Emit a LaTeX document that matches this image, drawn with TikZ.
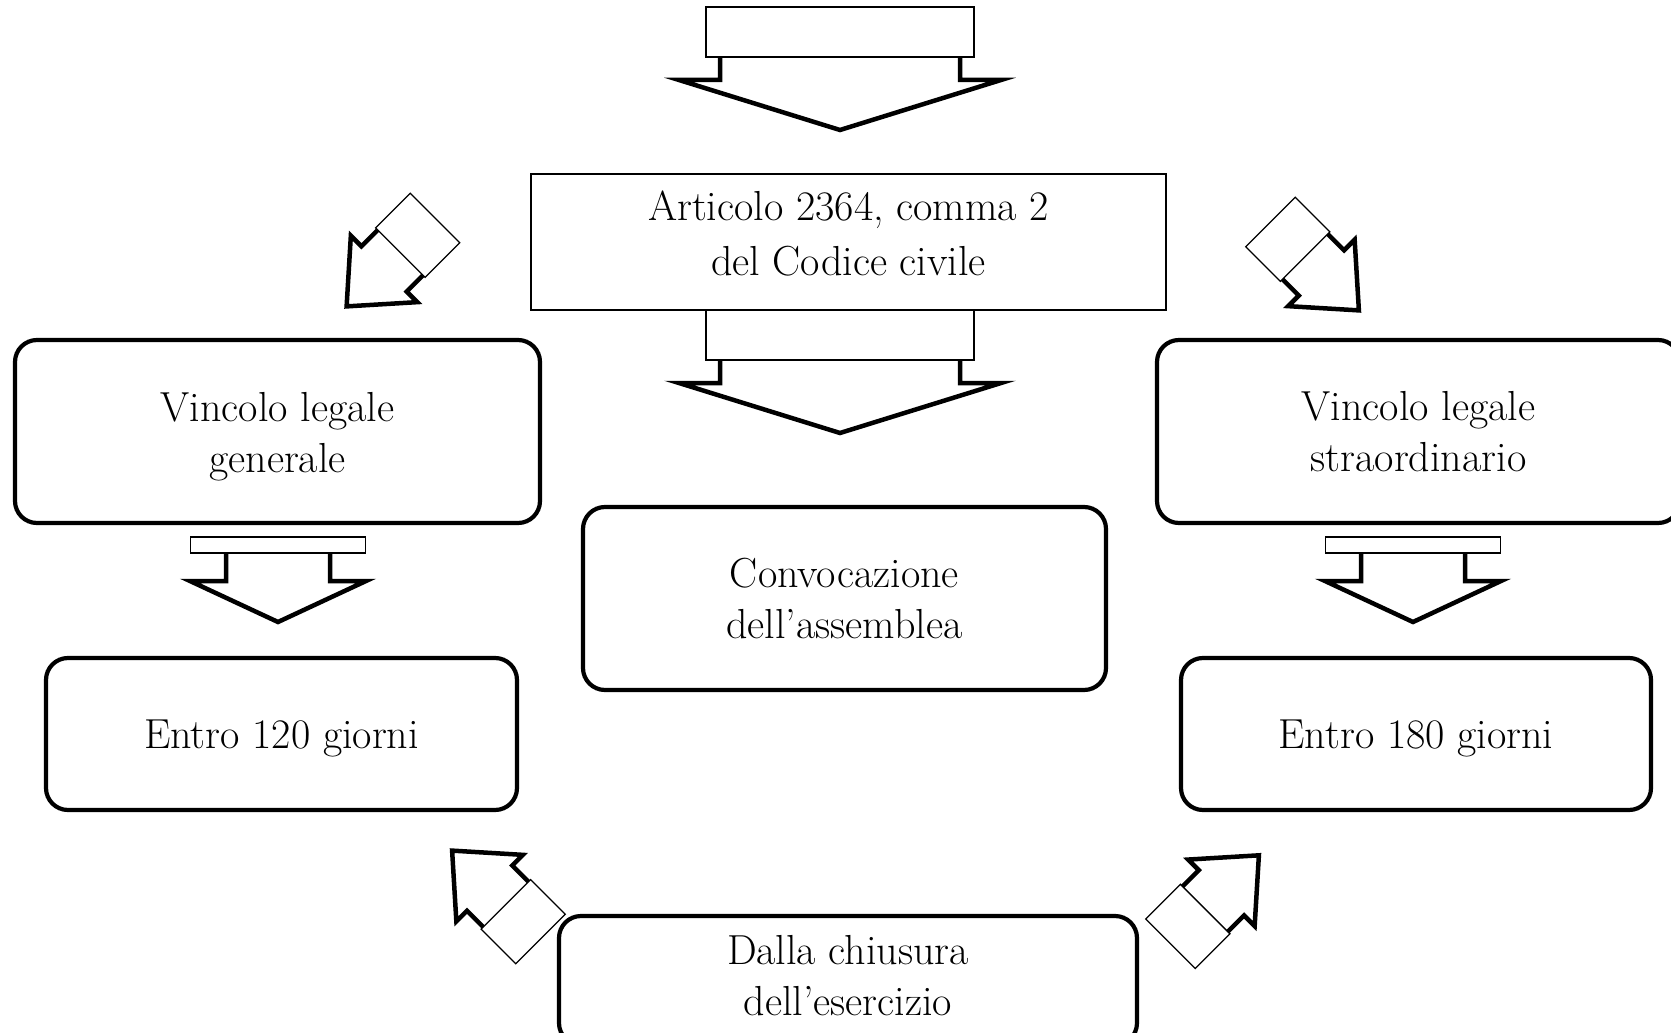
\documentclass[tikz,border=0pt]{standalone}
\usepackage{fontspec}
% block arrow in local coordinates: origin at the middle of the back edge,
% pointing towards +y (downwards on the page)
% #1 half width of the bar, #2 bar depth, #3 half width of the stem,
% #4 stem length, #5 half width of the head, #6 head length
\newcommand\blockarrow[6]{%
  \path[arrowhead] (-#3,#2) -- (-#3,#2+#4) -- (-#5,#2+#4) -- (0,#2+#4+#6)
        -- (#5,#2+#4) -- (#3,#2+#4) -- (#3,#2);
  \path[arrowbar] (-#1,0) rectangle (#1,#2);
}
\begin{document}
\begin{tikzpicture}[x=1pt,y=-1pt,
  every node/.style={font=\fontsize{42}{51}\selectfont, inner sep=0pt, align=center},
  roundbox/.style={draw, line width=4.2pt, rounded corners=22pt, fill=white},
  plainbox/.style={draw, line width=1.3pt},
  arrowbar/.style={draw, line width=1.3pt, fill=white},
  arrowhead/.style={draw, line width=4.5pt, line join=miter, fill=white},
]
\useasboundingbox (0,0) rectangle (1671,1033);

% boxes
\node[plainbox, minimum width=635pt, minimum height=136pt,
      font=\fontsize{42}{55}\selectfont] (art) at (848.5,242)
  {Articolo 2364, comma 2\\del Codice civile\rule[-18pt]{0pt}{0pt}};
\node[roundbox, minimum width=525pt, minimum height=183pt] (gen) at (277.5,431.5)
  {\rule{0pt}{40pt}Vincolo legale\\generale};
\node[roundbox, minimum width=523pt, minimum height=183pt] (stra) at (1418.5,431.5)
  {Vincolo legale\\straordinario};
\node[roundbox, minimum width=523pt, minimum height=183pt] (conv) at (844.5,598.5)
  {Convocazione\\dell'assemblea};
\node[roundbox, minimum width=471pt, minimum height=152pt] (e120) at (281.5,734)
  {\rule{0pt}{38pt}Entro 120 giorni};
\node[roundbox, minimum width=470pt, minimum height=152pt] (e180) at (1416,734)
  {\rule{0pt}{38pt}Entro 180 giorni};
\node[roundbox, minimum width=578pt, minimum height=129pt] (dalla) at (848,980.5)
  {Dalla chiusura\\ dell'esercizio\rule[-10pt]{0pt}{0pt}};

% anchor points of the block arrows
\coordinate (aTop) at (840,7);
\coordinate (aMid) at (840,310);
\coordinate (aGen) at (278,537);
\coordinate (aStra) at (1413,537);
\coordinate (aTL) at (435,218);
\coordinate (aTR) at (1270.5,222);
\coordinate (aBL) at (540.5,939);
\coordinate (aBR) at (1170.5,943.7);

% straight block arrows
\begin{scope}[shift={(aTop)}] \blockarrow{134}{50}{120}{23}{161}{50} \end{scope}
\begin{scope}[shift={(aMid)}] \blockarrow{134}{50}{120}{23}{161}{50} \end{scope}
\begin{scope}[shift={(aGen)}] \blockarrow{87.5}{16}{52}{28}{88}{41} \end{scope}
\begin{scope}[shift={(aStra)}] \blockarrow{87.5}{16}{52}{28}{88}{41} \end{scope}

% diagonal block arrows
\begin{scope}[shift={(aTL)}, rotate=-45] \blockarrow{35}{49}{32}{23}{47}{53} \end{scope}
\begin{scope}[shift={(aTR)}, rotate=45] \blockarrow{35}{49}{32}{23}{47}{53} \end{scope}
\begin{scope}[shift={(aBL)}, rotate=-135] \blockarrow{35}{49}{32}{23}{47}{53} \end{scope}
\begin{scope}[shift={(aBR)}, rotate=135] \blockarrow{35}{49}{32}{23}{47}{53} \end{scope}
\end{tikzpicture}
\end{document}
